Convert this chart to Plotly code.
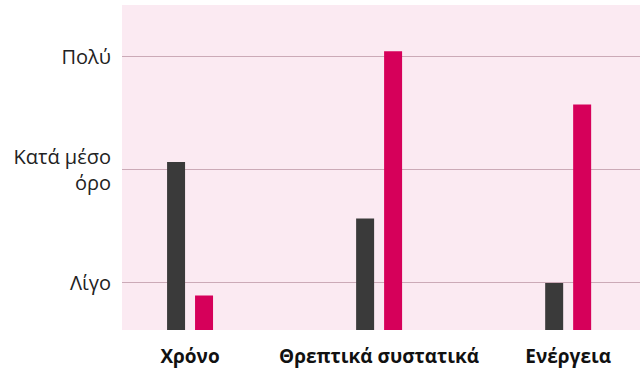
import plotly.graph_objects as go

categories = ["Χρόνο", "Θρεπτικά συστατικά", "Ενέργεια"]
series_dark = [2.07, 1.57, 1.0]
series_pink = [0.89, 3.05, 2.58]
tick_vals = [1, 2, 3]
tick_text = ["Λίγο", "Κατά μέσο<br>όρο", "Πολύ"]

x_idx = list(range(len(categories)))

fig = go.Figure()
fig.add_trace(go.Bar(x=x_idx, y=series_dark, marker_color="#3a3a3a",
                     marker_line_width=0, showlegend=False))
fig.add_trace(go.Bar(x=x_idx, y=series_pink, marker_color="#d6005a",
                     marker_line_width=0, showlegend=False))

fig.update_layout(
    width=640, height=383,
    margin=dict(l=122, r=0, t=5, b=53),
    paper_bgcolor="white",
    plot_bgcolor="#fbeaf2",
    barmode="group",
    bargap=0.704,
    bargroupgap=0.357,
    font=dict(family="'Open Sans', sans-serif", color="#111111"),
)
fig.update_xaxes(
    range=[-0.36, 2.38],
    tickvals=x_idx, ticktext=categories,
    tickfont=dict(size=19, family="Open Sans", weight="bold", color="#111111"),
    showgrid=False, zeroline=False, showline=False,
    ticks="", ticklabelstandoff=13,
)
fig.update_yaxes(
    range=[0.584, 3.46],
    tickvals=tick_vals, ticktext=tick_text,
    tickfont=dict(size=20, family="Open Sans", color="#222222"),
    showgrid=True, gridcolor="#cbaab7", gridwidth=1,
    zeroline=False, showline=False, ticks="", ticklabelstandoff=10,
)

fig.write_html("out.html")
